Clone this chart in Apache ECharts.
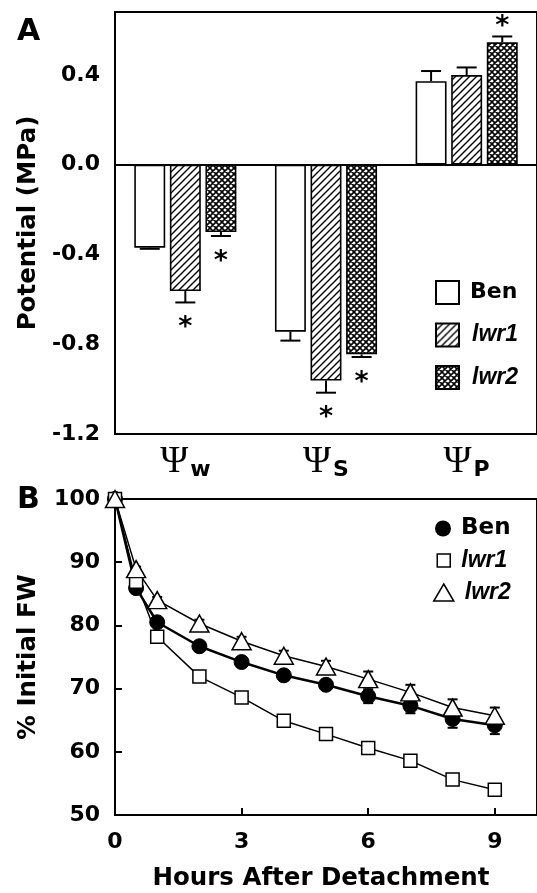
<!DOCTYPE html>
<html><head><meta charset="utf-8">
<script src="https://cdn.jsdelivr.net/npm/echarts@6/dist/echarts.min.js"></script>
<style>html,body{margin:0;padding:0;background:#fff}#c{width:537px;height:893px}</style>
</head><body><div id="c"></div>
<script>
// ---------- Panel A data ----------
const potentialCategories = ['w', 'S', 'P'];          // subscripts of Ψ
const benPotential  = [-0.370, -0.744, 0.372];
const lwr1Potential = [-0.563, -0.962, 0.399];
const lwr2Potential = [-0.300, -0.845, 0.545];
const benPotentialErr  = [0.005, 0.040, 0.045];
const lwr1PotentialErr = [0.051, 0.054, 0.034];
const lwr2PotentialErr = [0.018, 0.012, 0.026];
const benSignif  = [0, 0, 0];
const lwr1Signif = [1, 1, 0];
const lwr2Signif = [1, 1, 1];
const potentialTicks = [-1.2, -0.8, -0.4, 0.0, 0.4];

// ---------- Panel B data ----------
const hours   = [0, 0.5, 1, 2, 3, 4, 5, 6, 7, 8, 9];
const benFW   = [100, 85.9, 80.5, 76.7, 74.2, 72.1, 70.6, 68.8, 67.3, 65.2, 64.2];
const lwr1FW  = [100, 86.9, 78.2, 71.9, 68.6, 64.9, 62.8, 60.6, 58.6, 55.6, 54.0];
const lwr2FW  = [100, 88.9, 84.0, 80.3, 77.5, 75.2, 73.5, 71.5, 69.4, 67.0, 65.7];
const benFWErr  = [0, 0.5, 0.6, 0.6, 0.7, 0.7, 0.8, 1.1, 1.2, 1.4, 1.4];
const lwr1FWErr = [0, 0.3, 0.3, 0.4, 0.4, 0.4, 0.4, 0.5, 0.5, 0.5, 0.5];
const lwr2FWErr = [0, 0.4, 0.5, 0.6, 0.7, 0.8, 0.9, 1.2, 1.2, 1.3, 1.3];
const hourTicks = [0, 3, 6, 9];
const fwTicks = [50, 60, 70, 80, 90, 100];

// ---------- styles ----------
const SANS = 'DejaVu Sans';
const ITAL = 'Liberation Sans';

function makePattern(kind) {
  const s = kind === 'hatch' ? 7 : 6;
  const c = document.createElement('canvas');
  c.width = s; c.height = s;
  const g = c.getContext('2d');
  g.fillStyle = '#fff'; g.fillRect(0, 0, s, s);
  g.strokeStyle = '#000'; g.lineWidth = kind === 'hatch' ? 1.4 : 1.6;
  g.beginPath();
  g.moveTo(-1, s + 1); g.lineTo(s + 1, -1);
  g.moveTo(-1, 1); g.lineTo(1, -1);
  g.moveTo(s - 1, s + 1); g.lineTo(s + 1, s - 1);
  if (kind === 'cross') {
    g.moveTo(-1, -1); g.lineTo(s + 1, s + 1);
    g.moveTo(s - 1, -1); g.lineTo(s + 1, 1);
    g.moveTo(-1, s - 1); g.lineTo(1, s + 1);
  }
  g.stroke();
  return c;
}
const fillBen = '#ffffff';
const fillLwr1 = { image: makePattern('hatch'), repeat: 'repeat' };
const fillLwr2 = { image: makePattern('cross'), repeat: 'repeat' };

const OFFSET_FRAC = 0.253;

function barSeries(name, vals, fill, extra) {
  return Object.assign({
    name: name, type: 'bar', xAxisIndex: 0, yAxisIndex: 0,
    data: vals, barWidth: '22%', barGap: '15%',
    itemStyle: { color: fill, borderColor: '#000', borderWidth: 1.6 },
    z: 2
  }, extra || {});
}

function barErrSeries(vals, errs, sig, idx) {
  return {
    type: 'custom', xAxisIndex: 0, yAxisIndex: 0, silent: true, z: 4,
    encode: { x: 0, y: 1 },
    data: vals.map((v, i) => [i, v, errs[i], sig[i]]),
    renderItem: function (params, api) {
      const i = api.value(0), v = api.value(1), e = api.value(2), s = api.value(3);
      const band = api.size([1, 0])[0];
      const off = (idx - 1) * band * OFFSET_FRAC;
      const dir = v < 0 ? -1 : 1;
      const p0 = api.coord([i, v]);
      const p1 = api.coord([i, v + dir * e]);
      const x = p0[0] + off, cap = 10;
      const ch = [
        { type: 'line', shape: { x1: x, y1: p0[1], x2: x, y2: p1[1] }, style: { stroke: '#000', lineWidth: 2 } },
        { type: 'line', shape: { x1: x - cap, y1: p1[1], x2: x + cap, y2: p1[1] }, style: { stroke: '#000', lineWidth: 2 } }
      ];
      if (s) {
        ch.push({ type: 'text', x: x, y: dir < 0 ? p1[1] + 12 : p1[1] + 4,
          style: { text: '*', fontSize: 27, fontWeight: 'bold', fontFamily: SANS, fill: '#000',
                   align: 'center', verticalAlign: dir < 0 ? 'top' : 'bottom' } });
      }
      return { type: 'group', children: ch };
    }
  };
}

function lineErrSeries(vals, errs, z) {
  return {
    type: 'custom', xAxisIndex: 1, yAxisIndex: 1, silent: true, z: z,
    encode: { x: 0, y: 1 },
    data: hours.map((h, i) => [h, vals[i], errs[i]]),
    renderItem: function (params, api) {
      const h = api.value(0), v = api.value(1), e = api.value(2);
      if (!e) return null;
      const a = api.coord([h, v - e]), b = api.coord([h, v + e]);
      const cap = 5;
      return { type: 'group', children: [
        { type: 'line', shape: { x1: a[0], y1: a[1], x2: b[0], y2: b[1] }, style: { stroke: '#000', lineWidth: 2 } },
        { type: 'line', shape: { x1: a[0] - cap, y1: a[1], x2: a[0] + cap, y2: a[1] }, style: { stroke: '#000', lineWidth: 2 } },
        { type: 'line', shape: { x1: b[0] - cap, y1: b[1], x2: b[0] + cap, y2: b[1] }, style: { stroke: '#000', lineWidth: 2 } }
      ] };
    }
  };
}

const tickLabelStyle = { color: '#000', fontFamily: SANS, fontWeight: 'bold', fontSize: 22 };
const titleStyle = { color: '#000', fontFamily: SANS, fontWeight: 'bold', fontSize: 24.5 };

const legendRichA = {
  n: { fontFamily: SANS, fontWeight: 'bold', fontSize: 22, color: '#000', padding: [0, 0, 0, 6] },
  i: { fontFamily: ITAL, fontWeight: 'bold', fontStyle: 'italic', fontSize: 23, color: '#000', padding: [0, 0, 0, 8] }
};
const legendRichB = {
  n: { fontFamily: SANS, fontWeight: 'bold', fontSize: 23, color: '#000', padding: [0, 0, 0, 5] },
  i: { fontFamily: ITAL, fontWeight: 'bold', fontStyle: 'italic', fontSize: 23, color: '#000', padding: [0, 0, 0, 6] }
};
function legendFmt(name) {
  const n = name.replace(/^.*:/, '');
  return n === 'Ben' ? '{n|' + n + '}' : '{i|' + n + '}';
}

const chart = echarts.init(document.getElementById('c'), null, { renderer: 'canvas' });
chart.setOption({
  animation: false,
  backgroundColor: '#fff',
  grid: [
    { left: 115, top: 12, width: 423, height: 422, show: true, borderColor: '#000', borderWidth: 2, backgroundColor: 'transparent' },
    { left: 115, top: 499, width: 423, height: 316, show: true, borderColor: '#000', borderWidth: 2, backgroundColor: 'transparent' }
  ],
  xAxis: [
    { type: 'category', gridIndex: 0, data: potentialCategories,
      axisLine: { onZero: false, lineStyle: { color: '#000', width: 2 } },
      axisTick: { show: false },
      axisLabel: { margin: 9, interval: 0,
        formatter: v => '{p|Ψ}{s|' + v + '}',
        rich: {
          p: { fontFamily: 'Liberation Serif', fontSize: 38, color: '#000', verticalAlign: 'bottom', lineHeight: 38 },
          s: { fontFamily: SANS, fontWeight: 'bold', fontSize: 22, color: '#000', verticalAlign: 'bottom', lineHeight: 30, padding: [0, 0, 0, 2] }
        } },
      splitLine: { show: false } },
    { type: 'value', gridIndex: 1, min: 0, max: 10, interval: 3,
      name: 'Hours After Detachment', nameLocation: 'middle', nameGap: 51, nameTextStyle: Object.assign({ padding: [0, 10, 0, 0] }, titleStyle),
      axisLine: { onZero: false, lineStyle: { color: '#000', width: 2 } },
      axisTick: { inside: true, length: 7, lineStyle: { color: '#000', width: 2 } },
      axisLabel: Object.assign({ margin: 16, showMaxLabel: false,
        formatter: v => hourTicks.indexOf(v) >= 0 ? String(v) : '' }, tickLabelStyle),
      splitLine: { show: false } }
  ],
  yAxis: [
    { type: 'value', gridIndex: 0, min: -1.2, max: 0.68, interval: 0.4,
      name: 'Potential (MPa)', nameLocation: 'middle', nameGap: 74, nameTextStyle: titleStyle,
      axisLine: { onZero: false, lineStyle: { color: '#000', width: 2 } },
      axisTick: { inside: true, length: 7, lineStyle: { color: '#000', width: 2 } },
      axisLabel: Object.assign({ margin: 15, showMaxLabel: false,
        formatter: v => {
          const r = Math.round(v * 10) / 10;
          return potentialTicks.some(t => Math.abs(t - r) < 1e-6) && Math.abs(v - r) < 1e-6 ? (r === 0 ? '0.0' : r.toFixed(1)) : '';
        } }, tickLabelStyle),
      splitLine: { show: false } },
    { type: 'value', gridIndex: 1, min: 50, max: 100, interval: 10,
      name: '% Initial FW', nameLocation: 'middle', nameGap: 74, nameTextStyle: titleStyle,
      axisLine: { onZero: false, lineStyle: { color: '#000', width: 2 } },
      axisTick: { inside: true, length: 7, lineStyle: { color: '#000', width: 2 } },
      axisLabel: Object.assign({ margin: 15, formatter: v => fwTicks.indexOf(v) >= 0 ? String(v) : '' }, tickLabelStyle),
      splitLine: { show: false } }
  ],
  legend: [
    { orient: 'vertical', left: 430, top: 275, itemWidth: 23, itemHeight: 23, itemGap: 17.5,
      icon: 'rect', selectedMode: false,
      itemStyle: { borderColor: '#000', borderWidth: 2 },
      data: ['Ben', 'lwr1', 'lwr2'], formatter: legendFmt, textStyle: { rich: legendRichA } },
    { orient: 'vertical', left: 430, top: 512, itemWidth: 16, itemHeight: 16, selectedMode: false,
      data: [{ name: 'B:Ben', icon: 'circle' }], formatter: legendFmt, textStyle: { rich: legendRichB } },
    { orient: 'vertical', left: 431.5, top: 544, itemWidth: 13, itemHeight: 13, selectedMode: false,
      itemStyle: { borderWidth: 1.5 },
      data: [{ name: 'B:lwr1', icon: 'rect' }], formatter: legendFmt, textStyle: { rich: legendRichB } },
    { orient: 'vertical', left: 428, top: 576, itemWidth: 20, itemHeight: 17, selectedMode: false,
      itemStyle: { borderWidth: 1.5 },
      data: [{ name: 'B:lwr2', icon: 'triangle' }], formatter: legendFmt, textStyle: { rich: legendRichB } }
  ],
  graphic: [
    { type: 'text', left: 17, top: 17, style: { text: 'A', fontFamily: SANS, fontWeight: 'bold', fontSize: 30, fill: '#000' } },
    { type: 'text', left: 17, top: 485, style: { text: 'B', fontFamily: SANS, fontWeight: 'bold', fontSize: 30, fill: '#000' } }
  ],
  series: [
    barSeries('Ben', benPotential, fillBen, {
      markLine: { silent: true, symbol: 'none', label: { show: false },
        lineStyle: { color: '#000', width: 2, type: 'solid' }, data: [{ yAxis: 0 }] } }),
    barSeries('lwr1', lwr1Potential, fillLwr1),
    barSeries('lwr2', lwr2Potential, fillLwr2),
    barErrSeries(benPotential, benPotentialErr, benSignif, 0),
    barErrSeries(lwr1Potential, lwr1PotentialErr, lwr1Signif, 1),
    barErrSeries(lwr2Potential, lwr2PotentialErr, lwr2Signif, 2),

    lineErrSeries(benFW, benFWErr, 1),
    lineErrSeries(lwr1FW, lwr1FWErr, 1),
    lineErrSeries(lwr2FW, lwr2FWErr, 1),
    { name: 'B:Ben', type: 'line', xAxisIndex: 1, yAxisIndex: 1, z: 3, clip: false,
      data: hours.map((h, i) => [h, benFW[i]]),
      symbol: 'circle', symbolSize: 15,
      itemStyle: { color: '#000', borderColor: '#000' },
      lineStyle: { color: '#000', width: 2.5 } },
    { name: 'B:lwr1', type: 'line', xAxisIndex: 1, yAxisIndex: 1, z: 3, clip: false,
      data: hours.map((h, i) => [h, lwr1FW[i]]),
      symbol: 'rect', symbolSize: 13,
      itemStyle: { color: '#fff', borderColor: '#000', borderWidth: 1.5 },
      lineStyle: { color: '#000', width: 1.5 } },
    { name: 'B:lwr2', type: 'line', xAxisIndex: 1, yAxisIndex: 1, z: 3, clip: false,
      data: hours.map((h, i) => [h, lwr2FW[i]]),
      symbol: 'triangle', symbolSize: [19, 17],
      itemStyle: { color: '#fff', borderColor: '#000', borderWidth: 1.5 },
      lineStyle: { color: '#000', width: 1.5 } }
  ]
});
</script>
</body></html>
